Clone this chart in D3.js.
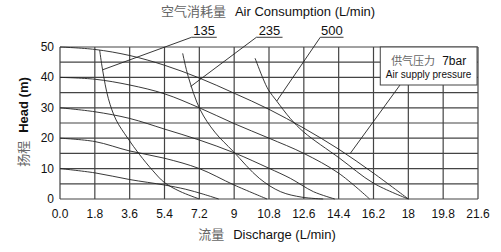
<!DOCTYPE html>
<html>
<head>
<meta charset="utf-8">
<script src="https://cdn.jsdelivr.net/npm/d3@7"></script>
<style>
  body { margin: 0; background: #fff; }
  svg { display: block; }
  .en { font-family: "Liberation Sans", Arial, sans-serif; fill: #111; }
  .zh { font-family: "Noto Sans CJK SC", sans-serif; fill: #666; }
</style>
</head>
<body>
<div id="chart"></div>
<script>
// tick values
var xTicks = [0, 1.8, 3.6, 5.4, 7.2, 9, 10.8, 12.6, 14.4, 16.2, 18, 19.8, 21.6];
var xTickLabels = ['0.0', '1.8', '3.6', '5.4', '7.2', '9', '10.8', '12.6', '14.4', '16.2', '18', '19.8', '21.6'];
var yGrid = [0, 5, 10, 15, 20, 25, 30, 35, 40, 45, 50];
var yTicks = [0, 10, 20, 30, 40, 50];

// head curves for the pressure lines  [discharge, head]
var p50 = [[0, 50], [1.8, 49.2], [3.6, 47.2], [5.4, 44], [7.2, 39.8], [9, 34.8], [10.8, 29.5], [12.6, 23.3], [14.4, 16.4], [16.2, 8.5], [18, 0]];
var p40 = [[0, 40], [1.8, 39.4], [3.6, 37.5], [5.4, 34.6], [7.2, 30], [9, 24.8], [10.8, 20], [12.6, 15], [14.4, 8.5], [16, 0]];
var p30 = [[0, 30], [1.8, 28.7], [3.6, 26.5], [5.4, 23], [7.2, 19.4], [9, 15.2], [10.8, 10.1], [11.9, 6.8], [13.1, 2.4], [14.2, 0]];
var p20 = [[0, 20], [1.8, 18.9], [3.6, 15.8], [5.4, 13.4], [7.2, 10], [9, 4.6], [10.7, 0]];
var p10 = [[0, 10], [1.8, 8.6], [3.6, 6.4], [5.4, 4.6], [6.5, 3.2], [7.4, 1.6], [8.2, 0]];

// air consumption curves
var c135 = [[2.05, 49], [2.2, 42.5], [2.5, 33], [2.9, 26], [3.5, 20], [4.1, 14.7], [4.8, 9.3], [5.4, 5.4], [6.2, 2.5], [7.2, 0]];
var c235 = [[6.34, 47.9], [6.63, 40.2], [7.25, 29.3], [8, 22], [8.96, 15.6], [10.3, 6.8], [11.4, 2.4], [12.5, 0.6], [13.6, 0]];
var c500 = [[10.08, 46.3], [10.5, 39.5], [10.77, 35.9], [11.2, 32.2], [11.9, 26.5], [12.6, 22], [14.45, 13.4], [16.2, 5.2], [18, 0]];

var curves = [p50, p40, p30, p20, p10, c135, c235, c500];

// labels of the air consumption curves: text, underline span, leader target
var airLabels = ['135', '235', '500'];
var airLabelSpan = [[6.8, 8.1], [10.15, 11.5], [13.45, 14.65]];
var airLabelTarget = [[2.2, 42.5], [6.75, 37], [11.2, 32.2]];

var margin = { left: 60, top: 47, right: 23, bottom: 53 };
var W = 501, H = 252;
var width = W - margin.left - margin.right,
    height = H - margin.top - margin.bottom;

var svg = d3.select('#chart').append('svg')
    .attr('width', W)
    .attr('height', H);

var g = svg.append('g')
    .attr('transform', 'translate(' + margin.left + ',' + margin.top + ')');

var x = d3.scaleLinear().domain([0, 21.6]).range([0, width]);
var y = d3.scaleLinear().domain([0, 50]).range([height, 0]);

// grid
g.selectAll('.vline').data(xTicks).enter().append('line')
    .attr('x1', d => x(d)).attr('x2', d => x(d))
    .attr('y1', y(0)).attr('y2', y(50))
    .attr('stroke', '#444').attr('stroke-width', 1.2);

g.selectAll('.hline').data(yGrid).enter().append('line')
    .attr('x1', x(0)).attr('x2', x(21.6))
    .attr('y1', d => y(d)).attr('y2', d => y(d))
    .attr('stroke', '#444').attr('stroke-width', 1.2);

// tick labels
g.selectAll('.xt').data(xTicks).enter().append('text')
    .attr('class', 'en')
    .attr('x', d => x(d))
    .attr('y', height + 19)
    .attr('text-anchor', 'middle')
    .attr('font-size', '12px')
    .attr('fill', '#222')
    .text((d, i) => xTickLabels[i]);

g.selectAll('.yt').data(yTicks).enter().append('text')
    .attr('class', 'en')
    .attr('x', -6)
    .attr('y', d => y(d) + 4)
    .attr('text-anchor', 'end')
    .attr('font-size', '12px')
    .text(d => d);

// curves
var line = d3.line()
    .x(d => x(d[0]))
    .y(d => y(d[1]))
    .curve(d3.curveCatmullRom.alpha(0.5));

g.selectAll('.curve').data(curves).enter().append('path')
    .attr('d', line)
    .attr('fill', 'none')
    .attr('stroke', '#222')
    .attr('stroke-width', 0.9);

// air consumption labels with leaders
airLabels.forEach(function(lab, i) {
    var sp = airLabelSpan[i], tg = airLabelTarget[i];
    g.append('polyline')
        .attr('points', [[x(tg[0]), y(tg[1])], [x(sp[0]), y(53.2)], [x(sp[1]), y(53.2)]].join(' '))
        .attr('fill', 'none')
        .attr('stroke', '#222')
        .attr('stroke-width', 0.9);
    g.append('text')
        .attr('class', 'en')
        .attr('x', (x(sp[0]) + x(sp[1])) / 2)
        .attr('y', y(53.2) - 2)
        .attr('text-anchor', 'middle')
        .attr('font-size', '13px')
        .text(lab);
});

// pressure box
var box = { q0: 16.55, q1: 21.55, h0: 37.5, h1: 50 };
g.append('line')
    .attr('x1', x(17.57)).attr('y1', y(37.5))
    .attr('x2', x(15)).attr('y2', y(15))
    .attr('stroke', '#222').attr('stroke-width', 0.9);
g.append('rect')
    .attr('x', x(box.q0)).attr('y', y(box.h1))
    .attr('width', x(box.q1) - x(box.q0))
    .attr('height', y(box.h0) - y(box.h1))
    .attr('fill', '#fff')
    .attr('stroke', '#444').attr('stroke-width', 1);

var bx = (x(box.q0) + x(box.q1)) / 2;
var t1 = g.append('text')
    .attr('x', bx).attr('y', y(50) + 18)
    .attr('text-anchor', 'middle')
    .attr('font-size', '11px');
t1.append('tspan').attr('class', 'zh').text('供气压力');
t1.append('tspan').attr('class', 'en').attr('dx', 7).attr('font-size', '12px').text('7bar');
g.append('text')
    .attr('class', 'en')
    .attr('x', bx).attr('y', y(50) + 31)
    .attr('text-anchor', 'middle')
    .attr('font-size', '10px')
    .text('Air supply pressure');

// titles
var title = svg.append('text')
    .attr('x', 268).attr('y', 16)
    .attr('text-anchor', 'middle')
    .attr('font-size', '13px');
title.append('tspan').attr('class', 'zh').text('空气消耗量');
title.append('tspan').attr('class', 'en').attr('dx', 9).text('Air Consumption (L/min)');

var xlab = svg.append('text')
    .attr('x', 267).attr('y', 239)
    .attr('text-anchor', 'middle')
    .attr('font-size', '13px');
xlab.append('tspan').attr('class', 'zh').text('流量');
xlab.append('tspan').attr('class', 'en').attr('dx', 9).text('Discharge (L/min)');

var ylab = svg.append('text')
    .attr('transform', 'translate(28,122) rotate(-90)')
    .attr('text-anchor', 'middle')
    .attr('font-size', '13px');
ylab.append('tspan').attr('class', 'zh').text('扬程');
ylab.append('tspan').attr('class', 'en').attr('dx', 8).attr('font-weight', 'bold').text('Head (m)');
</script>
</body>
</html>
